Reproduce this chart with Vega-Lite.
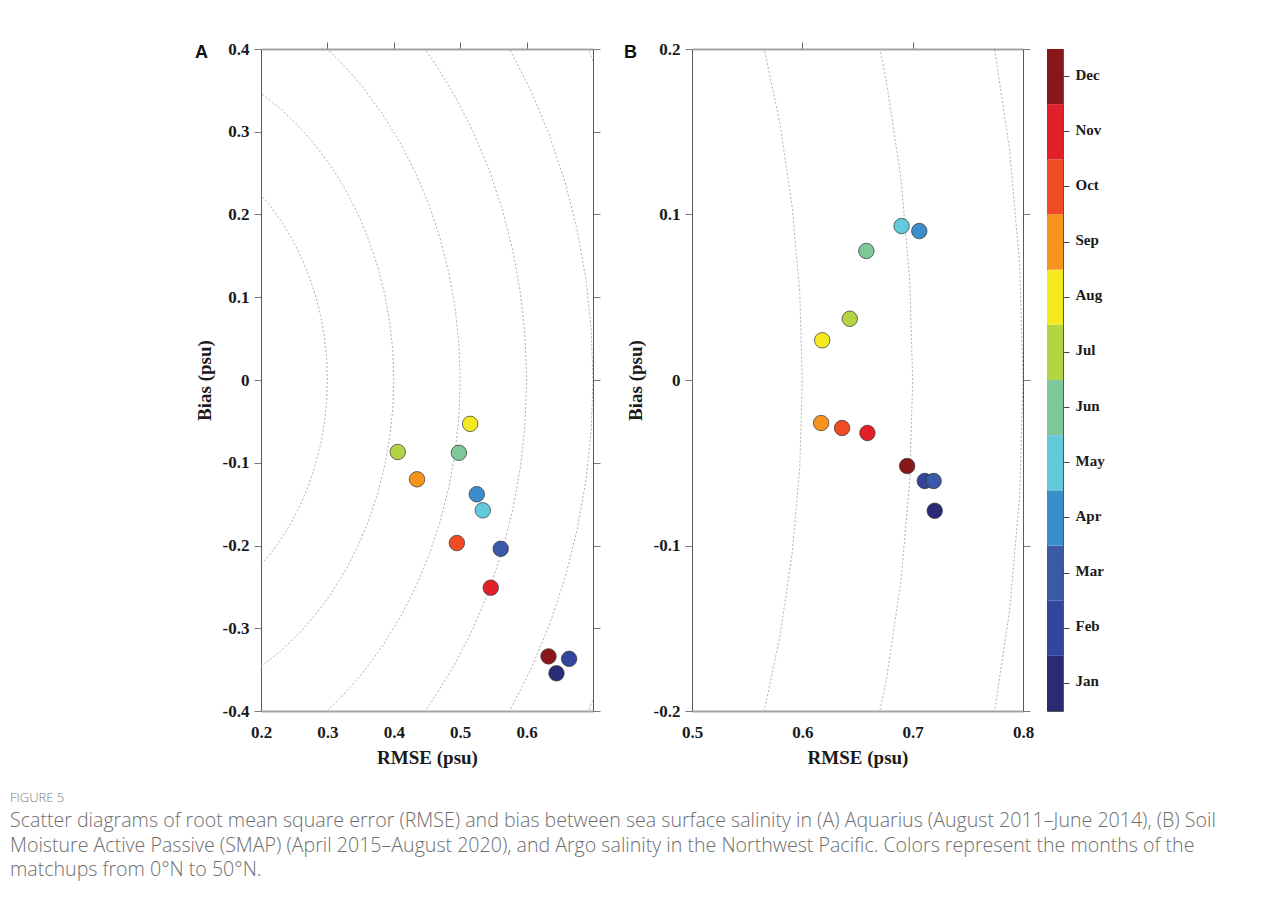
{
  "$schema": "https://vega.github.io/schema/vega-lite/v6.json",
  "autosize": {"type": "none"},
  "padding": {"left": 261, "top": 49, "right": 1027, "bottom": 854},
  "background": "white",
  "datasets": {
    "aquarius": [
      {"month": "Feb", "rmse": 0.664, "bias": -0.337},
      {"month": "Mar", "rmse": 0.561, "bias": -0.204},
      {"month": "Apr", "rmse": 0.525, "bias": -0.138},
      {"month": "May", "rmse": 0.534, "bias": -0.1575},
      {"month": "Jun", "rmse": 0.498, "bias": -0.088},
      {"month": "Jul", "rmse": 0.406, "bias": -0.087},
      {"month": "Aug", "rmse": 0.515, "bias": -0.053},
      {"month": "Sep", "rmse": 0.435, "bias": -0.12},
      {"month": "Oct", "rmse": 0.495, "bias": -0.197},
      {"month": "Nov", "rmse": 0.546, "bias": -0.251},
      {"month": "Dec", "rmse": 0.633, "bias": -0.334},
      {"month": "Jan", "rmse": 0.645, "bias": -0.3545}
    ],
    "smap": [
      {"month": "Jan", "rmse": 0.72, "bias": -0.079},
      {"month": "Feb", "rmse": 0.711, "bias": -0.061},
      {"month": "Mar", "rmse": 0.719, "bias": -0.061},
      {"month": "Apr", "rmse": 0.706, "bias": 0.09},
      {"month": "May", "rmse": 0.69, "bias": 0.093},
      {"month": "Jun", "rmse": 0.658, "bias": 0.078},
      {"month": "Jul", "rmse": 0.643, "bias": 0.037},
      {"month": "Aug", "rmse": 0.618, "bias": 0.024},
      {"month": "Sep", "rmse": 0.617, "bias": -0.026},
      {"month": "Oct", "rmse": 0.636, "bias": -0.029},
      {"month": "Nov", "rmse": 0.659, "bias": -0.032},
      {"month": "Dec", "rmse": 0.695, "bias": -0.052}
    ],
    "months": [
      {"month": "Jan"}, {"month": "Feb"}, {"month": "Mar"}, {"month": "Apr"},
      {"month": "May"}, {"month": "Jun"}, {"month": "Jul"}, {"month": "Aug"},
      {"month": "Sep"}, {"month": "Oct"}, {"month": "Nov"}, {"month": "Dec"}
    ],
    "rings": [
      {"r": 0.3, "d": -50, "x": 0.1928, "y": -0.2298},
      {"r": 0.3, "d": -45, "x": 0.2121, "y": -0.2121},
      {"r": 0.3, "d": -40, "x": 0.2298, "y": -0.1928},
      {"r": 0.3, "d": -35, "x": 0.2457, "y": -0.1721},
      {"r": 0.3, "d": -30, "x": 0.2598, "y": -0.15},
      {"r": 0.3, "d": -25, "x": 0.2719, "y": -0.1268},
      {"r": 0.3, "d": -20, "x": 0.2819, "y": -0.1026},
      {"r": 0.3, "d": -15, "x": 0.2898, "y": -0.0776},
      {"r": 0.3, "d": -10, "x": 0.2954, "y": -0.0521},
      {"r": 0.3, "d": -5, "x": 0.2989, "y": -0.0261},
      {"r": 0.3, "d": 0, "x": 0.3, "y": 0},
      {"r": 0.3, "d": 5, "x": 0.2989, "y": 0.0261},
      {"r": 0.3, "d": 10, "x": 0.2954, "y": 0.0521},
      {"r": 0.3, "d": 15, "x": 0.2898, "y": 0.0776},
      {"r": 0.3, "d": 20, "x": 0.2819, "y": 0.1026},
      {"r": 0.3, "d": 25, "x": 0.2719, "y": 0.1268},
      {"r": 0.3, "d": 30, "x": 0.2598, "y": 0.15},
      {"r": 0.3, "d": 35, "x": 0.2457, "y": 0.1721},
      {"r": 0.3, "d": 40, "x": 0.2298, "y": 0.1928},
      {"r": 0.3, "d": 45, "x": 0.2121, "y": 0.2121},
      {"r": 0.3, "d": 50, "x": 0.1928, "y": 0.2298},
      {"r": 0.4, "d": -65, "x": 0.169, "y": -0.3625},
      {"r": 0.4, "d": -60, "x": 0.2, "y": -0.3464},
      {"r": 0.4, "d": -55, "x": 0.2294, "y": -0.3277},
      {"r": 0.4, "d": -50, "x": 0.2571, "y": -0.3064},
      {"r": 0.4, "d": -45, "x": 0.2828, "y": -0.2828},
      {"r": 0.4, "d": -40, "x": 0.3064, "y": -0.2571},
      {"r": 0.4, "d": -35, "x": 0.3277, "y": -0.2294},
      {"r": 0.4, "d": -30, "x": 0.3464, "y": -0.2},
      {"r": 0.4, "d": -25, "x": 0.3625, "y": -0.169},
      {"r": 0.4, "d": -20, "x": 0.3759, "y": -0.1368},
      {"r": 0.4, "d": -15, "x": 0.3864, "y": -0.1035},
      {"r": 0.4, "d": -10, "x": 0.3939, "y": -0.0695},
      {"r": 0.4, "d": -5, "x": 0.3985, "y": -0.0349},
      {"r": 0.4, "d": 0, "x": 0.4, "y": 0},
      {"r": 0.4, "d": 5, "x": 0.3985, "y": 0.0349},
      {"r": 0.4, "d": 10, "x": 0.3939, "y": 0.0695},
      {"r": 0.4, "d": 15, "x": 0.3864, "y": 0.1035},
      {"r": 0.4, "d": 20, "x": 0.3759, "y": 0.1368},
      {"r": 0.4, "d": 25, "x": 0.3625, "y": 0.169},
      {"r": 0.4, "d": 30, "x": 0.3464, "y": 0.2},
      {"r": 0.4, "d": 35, "x": 0.3277, "y": 0.2294},
      {"r": 0.4, "d": 40, "x": 0.3064, "y": 0.2571},
      {"r": 0.4, "d": 45, "x": 0.2828, "y": 0.2828},
      {"r": 0.4, "d": 50, "x": 0.2571, "y": 0.3064},
      {"r": 0.4, "d": 55, "x": 0.2294, "y": 0.3277},
      {"r": 0.4, "d": 60, "x": 0.2, "y": 0.3464},
      {"r": 0.4, "d": 65, "x": 0.169, "y": 0.3625},
      {"r": 0.5, "d": -55, "x": 0.2868, "y": -0.4096},
      {"r": 0.5, "d": -50, "x": 0.3214, "y": -0.383},
      {"r": 0.5, "d": -45, "x": 0.3536, "y": -0.3536},
      {"r": 0.5, "d": -40, "x": 0.383, "y": -0.3214},
      {"r": 0.5, "d": -35, "x": 0.4096, "y": -0.2868},
      {"r": 0.5, "d": -30, "x": 0.433, "y": -0.25},
      {"r": 0.5, "d": -25, "x": 0.4532, "y": -0.2113},
      {"r": 0.5, "d": -20, "x": 0.4698, "y": -0.171},
      {"r": 0.5, "d": -15, "x": 0.483, "y": -0.1294},
      {"r": 0.5, "d": -10, "x": 0.4924, "y": -0.0868},
      {"r": 0.5, "d": -5, "x": 0.4981, "y": -0.0436},
      {"r": 0.5, "d": 0, "x": 0.5, "y": 0},
      {"r": 0.5, "d": 5, "x": 0.4981, "y": 0.0436},
      {"r": 0.5, "d": 10, "x": 0.4924, "y": 0.0868},
      {"r": 0.5, "d": 15, "x": 0.483, "y": 0.1294},
      {"r": 0.5, "d": 20, "x": 0.4698, "y": 0.171},
      {"r": 0.5, "d": 25, "x": 0.4532, "y": 0.2113},
      {"r": 0.5, "d": 30, "x": 0.433, "y": 0.25},
      {"r": 0.5, "d": 35, "x": 0.4096, "y": 0.2868},
      {"r": 0.5, "d": 40, "x": 0.383, "y": 0.3214},
      {"r": 0.5, "d": 45, "x": 0.3536, "y": 0.3536},
      {"r": 0.5, "d": 50, "x": 0.3214, "y": 0.383},
      {"r": 0.5, "d": 55, "x": 0.2868, "y": 0.4096},
      {"r": 0.6, "d": -45, "x": 0.4243, "y": -0.4243},
      {"r": 0.6, "d": -40, "x": 0.4596, "y": -0.3857},
      {"r": 0.6, "d": -35, "x": 0.4915, "y": -0.3441},
      {"r": 0.6, "d": -30, "x": 0.5196, "y": -0.3},
      {"r": 0.6, "d": -25, "x": 0.5438, "y": -0.2536},
      {"r": 0.6, "d": -20, "x": 0.5638, "y": -0.2052},
      {"r": 0.6, "d": -15, "x": 0.5796, "y": -0.1553},
      {"r": 0.6, "d": -10, "x": 0.5909, "y": -0.1042},
      {"r": 0.6, "d": -5, "x": 0.5977, "y": -0.0523},
      {"r": 0.6, "d": 0, "x": 0.6, "y": 0},
      {"r": 0.6, "d": 5, "x": 0.5977, "y": 0.0523},
      {"r": 0.6, "d": 10, "x": 0.5909, "y": 0.1042},
      {"r": 0.6, "d": 15, "x": 0.5796, "y": 0.1553},
      {"r": 0.6, "d": 20, "x": 0.5638, "y": 0.2052},
      {"r": 0.6, "d": 25, "x": 0.5438, "y": 0.2536},
      {"r": 0.6, "d": 30, "x": 0.5196, "y": 0.3},
      {"r": 0.6, "d": 35, "x": 0.4915, "y": 0.3441},
      {"r": 0.6, "d": 40, "x": 0.4596, "y": 0.3857},
      {"r": 0.6, "d": 45, "x": 0.4243, "y": 0.4243},
      {"r": 0.7, "d": -35, "x": 0.5734, "y": -0.4015},
      {"r": 0.7, "d": -30, "x": 0.6062, "y": -0.35},
      {"r": 0.7, "d": -25, "x": 0.6344, "y": -0.2958},
      {"r": 0.7, "d": -20, "x": 0.6578, "y": -0.2394},
      {"r": 0.7, "d": -15, "x": 0.6761, "y": -0.1812},
      {"r": 0.7, "d": -10, "x": 0.6894, "y": -0.1216},
      {"r": 0.7, "d": -5, "x": 0.6973, "y": -0.061},
      {"r": 0.7, "d": 0, "x": 0.7, "y": 0},
      {"r": 0.7, "d": 5, "x": 0.6973, "y": 0.061},
      {"r": 0.7, "d": 10, "x": 0.6894, "y": 0.1216},
      {"r": 0.7, "d": 15, "x": 0.6761, "y": 0.1812},
      {"r": 0.7, "d": 20, "x": 0.6578, "y": 0.2394},
      {"r": 0.7, "d": 25, "x": 0.6344, "y": 0.2958},
      {"r": 0.7, "d": 30, "x": 0.6062, "y": 0.35},
      {"r": 0.7, "d": 35, "x": 0.5734, "y": 0.4015},
      {"r": 0.8, "d": -35, "x": 0.6553, "y": -0.4589},
      {"r": 0.8, "d": -30, "x": 0.6928, "y": -0.4},
      {"r": 0.8, "d": -25, "x": 0.725, "y": -0.3381},
      {"r": 0.8, "d": -20, "x": 0.7518, "y": -0.2736},
      {"r": 0.8, "d": -15, "x": 0.7727, "y": -0.2071},
      {"r": 0.8, "d": -10, "x": 0.7879, "y": -0.1389},
      {"r": 0.8, "d": -5, "x": 0.797, "y": -0.0697},
      {"r": 0.8, "d": 0, "x": 0.8, "y": 0},
      {"r": 0.8, "d": 5, "x": 0.797, "y": 0.0697},
      {"r": 0.8, "d": 10, "x": 0.7879, "y": 0.1389},
      {"r": 0.8, "d": 15, "x": 0.7727, "y": 0.2071},
      {"r": 0.8, "d": 20, "x": 0.7518, "y": 0.2736},
      {"r": 0.8, "d": 25, "x": 0.725, "y": 0.3381},
      {"r": 0.8, "d": 30, "x": 0.6928, "y": 0.4},
      {"r": 0.8, "d": 35, "x": 0.6553, "y": 0.4589}
    ]
  },
  "title": {
    "text": "FIGURE 5",
    "subtitle": [
      "Scatter diagrams of root mean square error (RMSE) and bias between sea surface salinity in (A) Aquarius (August 2011–June 2014), (B) Soil",
      "Moisture Active Passive (SMAP) (April 2015–August 2020), and Argo salinity in the Northwest Pacific. Colors represent the months of the",
      "matchups from 0°N to 50°N."
    ],
    "orient": "bottom",
    "anchor": "start",
    "frame": "group",
    "align": "left",
    "dx": -251,
    "offset": 25,
    "font": "Open Sans",
    "fontSize": 13,
    "fontWeight": 300,
    "color": "#7a7a7a",
    "subtitleFont": "Open Sans",
    "subtitleFontSize": 19.6,
    "subtitleFontWeight": 300,
    "subtitleColor": "#6e6e6e",
    "subtitleLineHeight": 24.5,
    "subtitlePadding": 7
  },
  "config": {
    "view": {"stroke": null},
    "axis": {
      "grid": false,
      "labelFlush": false,
      "labelOverlap": false,
      "labelFont": "Liberation Serif",
      "labelFontWeight": "bold",
      "labelFontSize": 17,
      "labelColor": "#1a1a1a",
      "titleFont": "Liberation Serif",
      "titleFontWeight": "bold",
      "titleFontSize": 19,
      "titleColor": "#1a1a1a",
      "tickColor": "#7a7a7a",
      "domainColor": "#5a5a5a"
    }
  },
  "bounds": "flush",
  "spacing": 99,
  "hconcat": [
    {
      "width": 332,
      "height": 662,
      "title": {"text": "A", "anchor": "start", "frame": "group", "font": "Liberation Sans", "fontSize": 18, "fontWeight": "bold", "color": "#111111", "baseline": "alphabetic", "offset": 0, "dx": -66, "dy": 36},
      "resolve": {"axis": {"x": "independent", "y": "independent"}},
      "layer": [
        {
          "data": {"name": "rings"},
          "mark": {"type": "line", "clip": true, "stroke": "#9c9c9c", "strokeWidth": 0.8, "strokeDash": [2, 2]},
          "encoding": {
            "x": {"field": "x", "type": "quantitative", "scale": {"domain": [0.2, 0.7], "nice": false, "zero": false},
                  "axis": {"orient": "top", "values": [0.3, 0.4, 0.5, 0.6], "labels": false, "title": null, "tickSize": 7, "tickColor": "#666666", "domainColor": "#a3a3a3", "domainWidth": 2}},
            "y": {"field": "y", "type": "quantitative", "scale": {"domain": [-0.4, 0.4], "nice": false, "zero": false},
                  "axis": {"orient": "right", "values": [-0.4, -0.3, -0.2, -0.1, 0, 0.1, 0.2, 0.3, 0.4], "labels": false, "title": null, "tickSize": 7}},
            "detail": {"field": "r", "type": "nominal"},
            "order": {"field": "d", "type": "quantitative"}
          }
        },
        {
          "mark": {"type": "rule", "stroke": "#2a2a2a", "strokeWidth": 1, "strokeDash": [1, 1]},
          "encoding": {"y": {"datum": 0, "type": "quantitative", "axis": null}}
        },
        {
          "data": {"name": "aquarius"},
          "mark": {"type": "circle", "size": 240, "opacity": 1, "stroke": "#333333", "strokeWidth": 0.7},
          "encoding": {
            "x": {"field": "rmse", "type": "quantitative", "scale": {"domain": [0.2, 0.7], "nice": false, "zero": false},
                  "axis": {"orient": "bottom", "values": [0.2, 0.3, 0.4, 0.5, 0.6], "ticks": false, "tickSize": 0, "labelPadding": 13, "title": "RMSE (psu)", "titlePadding": 8, "domainColor": "#a3a3a3", "domainWidth": 2, "labelExpr": "replace(format(datum.value, '.1~f'), '−', '-')"}},
            "y": {"field": "bias", "type": "quantitative", "scale": {"domain": [-0.4, 0.4], "nice": false, "zero": false},
                  "axis": {"orient": "left", "values": [-0.4, -0.3, -0.2, -0.1, 0, 0.1, 0.2, 0.3, 0.4], "tickSize": 7, "labelPadding": 5, "title": "Bias (psu)", "titlePadding": 8, "labelExpr": "replace(format(datum.value, '.1~f'), '−', '-')"}},
            "color": {"field": "month", "type": "nominal", "legend": null,
                      "scale": {"domain": ["Jan", "Feb", "Mar", "Apr", "May", "Jun", "Jul", "Aug", "Sep", "Oct", "Nov", "Dec"],
                                "range": ["#2a2b77", "#33469d", "#3a5aa8", "#3c8dcc", "#63c9dd", "#7cc898", "#b5d444", "#f5ea1f", "#f7941e", "#ef4b24", "#e2202a", "#891619"]}}
          }
        }
      ]
    },
    {
      "bounds": "flush",
      "spacing": 24,
      "hconcat": [
        {
          "width": 331,
          "height": 662,
          "title": {"text": "B", "anchor": "start", "frame": "group", "font": "Liberation Sans", "fontSize": 18, "fontWeight": "bold", "color": "#111111", "baseline": "alphabetic", "offset": 0, "dx": -68, "dy": 36},
          "resolve": {"axis": {"x": "independent", "y": "independent"}},
          "layer": [
            {
              "data": {"name": "rings"},
              "mark": {"type": "line", "clip": true, "stroke": "#9c9c9c", "strokeWidth": 0.8, "strokeDash": [2, 2]},
              "encoding": {
                "x": {"field": "x", "type": "quantitative", "scale": {"domain": [0.5, 0.8], "nice": false, "zero": false},
                      "axis": {"orient": "top", "values": [0.6, 0.7], "labels": false, "title": null, "tickSize": 7, "tickColor": "#666666", "domainColor": "#a3a3a3", "domainWidth": 2}},
                "y": {"field": "y", "type": "quantitative", "scale": {"domain": [-0.2, 0.2], "nice": false, "zero": false},
                      "axis": {"orient": "right", "values": [-0.2, -0.1, 0, 0.1, 0.2], "labels": false, "title": null, "tickSize": 7}},
                "detail": {"field": "r", "type": "nominal"},
                "order": {"field": "d", "type": "quantitative"}
              }
            },
            {
              "mark": {"type": "rule", "stroke": "#2a2a2a", "strokeWidth": 1, "strokeDash": [1, 1]},
              "encoding": {"y": {"datum": 0, "type": "quantitative", "axis": null}}
            },
            {
              "data": {"name": "smap"},
              "mark": {"type": "circle", "size": 240, "opacity": 1, "stroke": "#333333", "strokeWidth": 0.7},
              "encoding": {
                "x": {"field": "rmse", "type": "quantitative", "scale": {"domain": [0.5, 0.8], "nice": false, "zero": false},
                      "axis": {"orient": "bottom", "values": [0.5, 0.6, 0.7, 0.8], "ticks": false, "tickSize": 0, "labelPadding": 13, "title": "RMSE (psu)", "titlePadding": 8, "domainColor": "#a3a3a3", "domainWidth": 2, "labelExpr": "replace(format(datum.value, '.1~f'), '−', '-')"}},
                "y": {"field": "bias", "type": "quantitative", "scale": {"domain": [-0.2, 0.2], "nice": false, "zero": false},
                      "axis": {"orient": "left", "values": [-0.2, -0.1, 0, 0.1, 0.2], "tickSize": 7, "labelPadding": 5, "title": "Bias (psu)", "titlePadding": 8, "labelExpr": "replace(format(datum.value, '.1~f'), '−', '-')"}},
                "color": {"field": "month", "type": "nominal", "legend": null,
                          "scale": {"domain": ["Jan", "Feb", "Mar", "Apr", "May", "Jun", "Jul", "Aug", "Sep", "Oct", "Nov", "Dec"],
                                    "range": ["#2a2b77", "#33469d", "#3a5aa8", "#3c8dcc", "#63c9dd", "#7cc898", "#b5d444", "#f5ea1f", "#f7941e", "#ef4b24", "#e2202a", "#891619"]}}
              }
            }
          ]
        },
        {
          "width": 16,
          "height": 662,
          "data": {"name": "months"},
          "view": {"stroke": "#555555", "strokeWidth": 1},
          "mark": {"type": "rect"},
          "encoding": {
            "y": {"field": "month", "type": "ordinal",
                  "sort": ["Dec", "Nov", "Oct", "Sep", "Aug", "Jul", "Jun", "May", "Apr", "Mar", "Feb", "Jan"],
                  "scale": {"type": "band", "paddingInner": 0, "paddingOuter": 0},
                  "axis": {"orient": "right", "title": null, "domain": false, "tickSize": 6, "tickColor": "#444444", "labelPadding": 6, "labelFontSize": 15, "labelBaseline": "middle", "labelOffset": -2}},
            "color": {"field": "month", "type": "nominal", "legend": null,
                      "scale": {"domain": ["Jan", "Feb", "Mar", "Apr", "May", "Jun", "Jul", "Aug", "Sep", "Oct", "Nov", "Dec"],
                                "range": ["#2a2b77", "#33469d", "#3a5aa8", "#3c8dcc", "#63c9dd", "#7cc898", "#b5d444", "#f5ea1f", "#f7941e", "#ef4b24", "#e2202a", "#891619"]}}
          }
        }
      ]
    }
  ]
}
